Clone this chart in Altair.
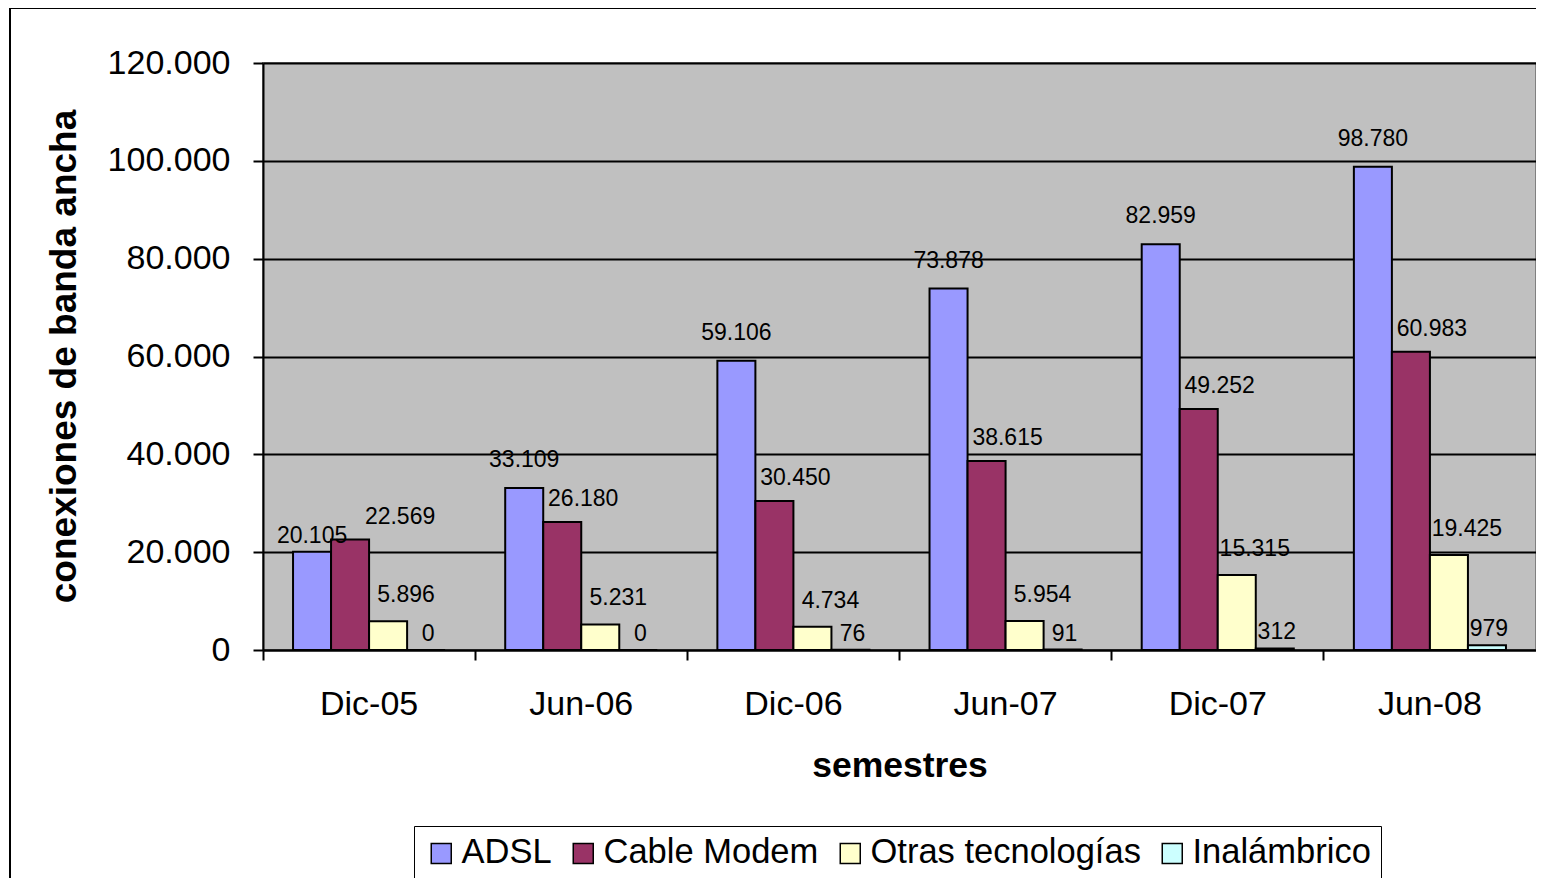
import altair as alt
import pandas as pd

semestres = ["Dic-05", "Jun-06", "Dic-06", "Jun-07", "Dic-07", "Jun-08"]
series = ["ADSL", "Cable Modem", "Otras tecnologías", "Inalámbrico"]
adsl = [20105, 33109, 59106, 73878, 82959, 98780]
cable = [22569, 26180, 30450, 38615, 49252, 60983]
otras = [5896, 5231, 4734, 5954, 15315, 19425]
inal = [0, 0, 76, 91, 312, 979]
colors = ["#9999FF", "#993366", "#FFFFCC", "#CCFFFF"]
y_ticks = [0, 20000, 40000, 60000, 80000, 100000, 120000]

rows = []
for name, vals in zip(series, [adsl, cable, otras, inal]):
    for s, v in zip(semestres, vals):
        rows.append({"semestre": s, "serie": name, "valor": v})
df = pd.DataFrame(rows)

FONT = "Liberation Sans"

x_enc = alt.X(
    "semestre:N",
    sort=semestres,
    scale=alt.Scale(paddingInner=0, paddingOuter=0),
    axis=alt.Axis(
        title="semestres",
        bandPosition=0,
        labelAngle=0,
        labelFont=FONT,
        labelFontSize=34,
        labelColor="black",
        labelPadding=27,
        tickColor="black",
        tickSize=10,
        tickWidth=2,
        domainColor="black",
        domainWidth=2,
        grid=False,
        titleFont=FONT,
        titleFontSize=35.5,
        titleFontWeight="bold",
        titleColor="black",
        titleY=115,
        titleBaseline="middle",
    ),
)
xo_enc = alt.XOffset(
    "serie:N", sort=series, scale=alt.Scale(paddingOuter=0.79, paddingInner=0)
)
y_enc = alt.Y(
    "valor:Q",
    scale=alt.Scale(domain=[0, 120000]),
    axis=alt.Axis(
        title="conexiones de banda ancha",
        values=y_ticks,
        labelExpr="replace(format(datum.value, ','), ',', '.')",
        labelFont=FONT,
        labelFontSize=34,
        labelColor="black",
        labelPadding=23,
        tickColor="black",
        tickSize=10,
        tickWidth=2,
        domainColor="black",
        domainWidth=2,
        grid=True,
        gridColor="black",
        gridWidth=2,
        titleFont=FONT,
        titleFontSize=37,
        titleFontWeight="bold",
        titleColor="black",
        titleX=-199,
        titleY=293,
        titleAlign="center",
        titleBaseline="middle",
    ),
)
color_enc = alt.Color(
    "serie:N",
    sort=series,
    scale=alt.Scale(domain=series, range=colors),
    legend=alt.Legend(
        title=None,
        orient="none",
        legendX=151,
        legendY=763,
        direction="horizontal",
        columns=4,
        symbolType="square",
        symbolSize=400,
        symbolStrokeColor="black",
        symbolStrokeWidth=1.5,
        labelFont=FONT,
        labelFontSize=34.5,
        labelColor="black",
        labelLimit=0,
        labelOffset=3,
        columnPadding=14,
        padding=10,
        strokeColor="black",
        fillColor="white",
    ),
)

base = alt.Chart(df)

border = (
    alt.Chart(pd.DataFrame({"a": [0]}))
    .mark_rect(fill="white", fillOpacity=0, stroke="black", strokeWidth=2)
    .encode(
        x=alt.value(-253), x2=alt.value(1400), y=alt.value(-55), y2=alt.value(950)
    )
)

bars = base.mark_bar(stroke="black", strokeWidth=2).encode(
    x=x_enc, xOffset=xo_enc, y=y_enc, color=color_enc
)

first = alt.datum.semestre == "Dic-05"
label_cfg = [
    ((alt.datum.serie == "ADSL") & ~first, 0, -21),
    ((alt.datum.serie == "ADSL") & first, 0, -9),
    ((alt.datum.serie == "Cable Modem") & ~first, 21, -16),
    ((alt.datum.serie == "Cable Modem") & first, 50, -16),
    (alt.datum.serie == "Otras tecnologías", 18, -19),
    (alt.datum.serie == "Inalámbrico", 2, -9),
]

layers = [border, bars]
for cond, dx, dy in label_cfg:
    t = (
        base.transform_filter(cond)
        .transform_calculate(lbl="replace(format(datum.valor, ','), ',', '.')")
        .mark_text(
            font=FONT, fontSize=23, color="black", dx=dx, dy=dy, baseline="alphabetic"
        )
        .encode(x=x_enc, xOffset=xo_enc, y=y_enc, text="lbl:N")
    )
    layers.append(t)

chart = (
    alt.layer(*layers)
    .properties(
        width=1273,
        height=587,
        autosize=alt.AutoSizeParams(type="none"),
        padding={"left": 255, "top": 55, "right": 0, "bottom": 228},
        background="white",
    )
    .configure_view(fill="#C0C0C0", stroke="#808080", strokeWidth=2)
)

chart.save("out.html", embed_options={"renderer": "svg", "actions": False})
